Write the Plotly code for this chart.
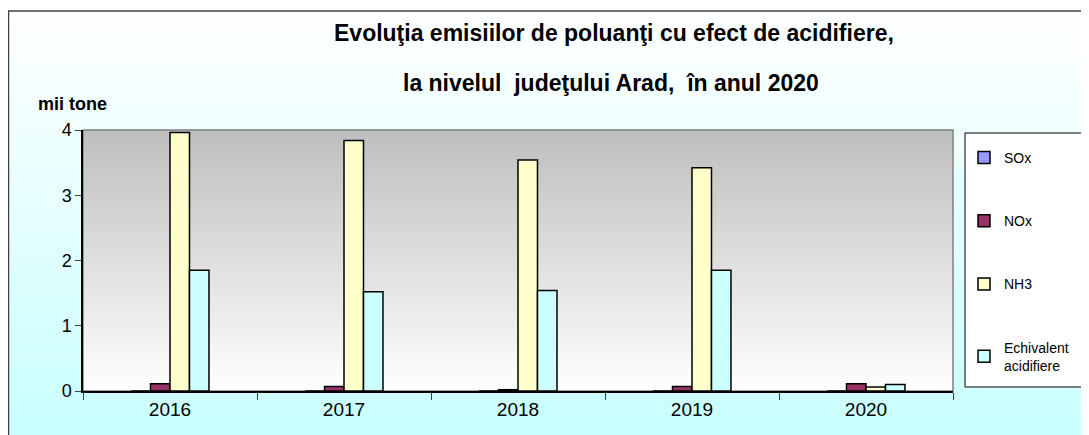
import plotly.graph_objects as go

years = ["2016", "2017", "2018", "2019", "2020"]
sox = [0.0, 0.0, 0.0, 0.0, 0.0]
nox = [0.11, 0.07, 0.02, 0.07, 0.11]
nh3 = [3.96, 3.84, 3.54, 3.42, 0.06]
echiv = [1.85, 1.52, 1.54, 1.85, 0.10]
series_names = ["SOx", "NOx", "NH3", "Echivalent<br>acidifiere"]
series_colors = ["#9999FF", "#993366", "#FFFFCC", "#CCFFFF"]
y_ticks = [0, 1, 2, 3, 4]

OFF = 8  # page body margin in the browser
W, H = 1089 - OFF, 435 - OFF
L, R, T, B = 83, 953, 130, 391  # plot area, in window pixels


def px(x):
    return (x - L) / (R - L)


def py(y):
    return (B - y) / (B - T)


FONT = "Arial, Liberation Sans, sans-serif"

fig = go.Figure()
for name, vals, col in zip(series_names, [sox, nox, nh3, echiv], series_colors):
    fig.add_trace(go.Bar(
        x=years, y=vals, name=name, legendgroup=name,
        marker=dict(color=col, line=dict(color="black", width=1.5)),
    ))

shapes = []
# paper gradient (white -> light cyan)
n = 44
top_px, bot_px = 11, 440
for i in range(n):
    y0 = top_px + (bot_px - top_px) * i / n
    y1 = top_px + (bot_px - top_px) * (i + 1) / n + 0.6
    t = (i + 0.5) / n
    r = int(round(255 - 55 * t))
    shapes.append(dict(type="rect", xref="paper", yref="paper", layer="below",
                       x0=px(8), x1=px(1095), y0=py(y0), y1=py(y1),
                       fillcolor=f"rgb({r},255,255)", line=dict(width=0)))
# outer border
shapes.append(dict(type="rect", xref="paper", yref="paper", layer="below",
                   x0=px(8.5), x1=px(1100), y0=py(11), y1=py(445),
                   fillcolor="rgba(0,0,0,0)", line=dict(color="#404040", width=1.5)))
# plot area gradient (gray -> white)
m = 52
for i in range(m):
    t = (i + 0.5) / m
    g = int(round(190 + 65 * t))
    shapes.append(dict(type="rect", xref="x domain", yref="y domain", layer="below",
                       x0=0, x1=1, y0=1 - i / m, y1=1 - (i + 1) / m - 0.004,
                       fillcolor=f"rgb({g},{g},{g})", line=dict(width=0)))
shapes.append(dict(type="rect", xref="x domain", yref="y domain", layer="below",
                   x0=0, x1=1, y0=0, y1=1,
                   fillcolor="rgba(0,0,0,0)", line=dict(color="#808080", width=1.5)))
# legend box
shapes.append(dict(type="rect", xref="paper", yref="paper", layer="below",
                   x0=px(965), x1=px(1100), y0=py(133), y1=py(387),
                   fillcolor="white", line=dict(color="black", width=1)))

annotations = [
    dict(text="<b>Evoluţia emisiilor de poluanţi cu efect de acidifiere,</b>",
         xref="paper", yref="paper", x=px(614), y=py(33), showarrow=False,
         xanchor="center", yanchor="middle",
         font=dict(family=FONT, size=23, color="black")),
    dict(text="<b>la nivelul  judeţului Arad,  în anul 2020</b>",
         xref="paper", yref="paper", x=px(611), y=py(83), showarrow=False,
         xanchor="center", yanchor="middle",
         font=dict(family=FONT, size=23, color="black")),
    dict(text="<b>mii tone</b>", xref="paper", yref="paper", x=px(36), y=py(104),
         xanchor="left", yanchor="middle", showarrow=False,
         font=dict(family=FONT, size=18, color="black")),
]

fig.update_layout(
    width=W, height=H,
    margin=dict(l=L - OFF, r=1089 - R, t=T - OFF, b=435 - B, pad=0),
    paper_bgcolor="white", plot_bgcolor="rgba(0,0,0,0)",
    barmode="group", bargap=0.552, bargroupgap=0,
    font=dict(family=FONT, size=18, color="black"),
    shapes=shapes, annotations=annotations,
    legend=dict(x=px(964), y=py(142), xanchor="left", yanchor="top",
                bgcolor="rgba(0,0,0,0)", borderwidth=0, tracegroupgap=42,
                font=dict(family=FONT, size=14, color="black"),
                itemclick=False),
    xaxis=dict(showline=True, linecolor="black", linewidth=1.5, ticks="outside",
               tickson="boundaries", ticklen=7, tickcolor="#404040",
               showgrid=False, tickfont=dict(size=19)),
    yaxis=dict(range=[0, 4], tickvals=y_ticks, showline=True, linecolor="black",
               linewidth=1.5, ticks="outside", ticklen=6, tickcolor="#404040",
               showgrid=False, zeroline=False, tickfont=dict(size=18)),
)

fig.write_html("out.html")
